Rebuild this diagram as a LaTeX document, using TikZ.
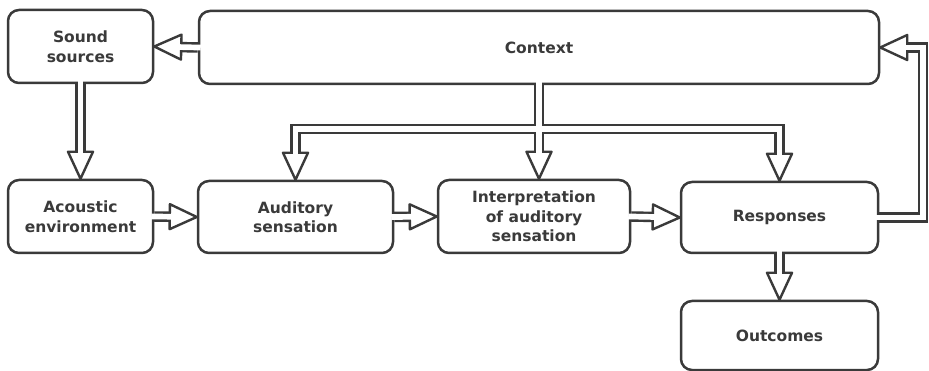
\documentclass[tikz,border=0pt]{standalone}
\usepackage{fontspec}
\setmainfont{DejaVu Sans}
\usetikzlibrary{calc}
\definecolor{lc}{HTML}{3A3A3A}
\definecolor{tc}{HTML}{3A3A3A}
\newcommand\hollowarrow[2]{%
  \path (#1) coordinate (s) (#2) coordinate (t);
  \coordinate (b) at ($(t)!27pt!(s)$);
  \coordinate (s2) at ($(s)!-3pt!(t)$);
  \coordinate (b2) at ($(b)!-3pt!(s)$);
  \draw[outer] (s) -- (b);
  \draw[headstyle] ($(b)!12.5pt!90:(t)$) -- (t) -- ($(b)!12.5pt!-90:(t)$) -- cycle;
  \draw[inner] (s2) -- (b2);
}
\newcommand\headat[2]{% #1 tip, #2 base
  \draw[headstyle] ($(#2)!12.5pt!90:(#1)$) -- (#1) -- ($(#2)!12.5pt!-90:(#1)$) -- cycle;
}
\begin{document}
\begin{tikzpicture}[x=1pt,y=-1pt,
  box/.style={draw=lc, line width=2.5pt, rounded corners=11pt, fill=white, inner sep=0pt},
  lab/.style={font=\bfseries\fontsize{15.5}{19.5}\selectfont, text=tc, align=center},
  headstyle/.style={draw=lc, line width=2.4pt, fill=white, line join=round},
  outer/.style={draw=lc, line width=10.5pt, line join=miter},
  inner/.style={draw=white, line width=5.7pt, line join=miter},
]
\useasboundingbox[fill=white] (0,0) rectangle (929,371);

\node[box, lab, minimum width=145pt, minimum height=73pt] (sound) at (80.5,46.5) {Sound\\sources};
\node[box, lab, minimum width=680pt, minimum height=73pt] (context) at (539,47.5) {Context};
\node[box, lab, minimum width=145pt, minimum height=73pt] (acoustic) at (80.5,216.5) {Acoustic\\environment};
\node[box, lab, minimum width=195pt, minimum height=72pt] (auditory) at (295.5,217) {Auditory\\sensation};
\node[box, lab, minimum width=192pt, minimum height=73pt] (interp) at (534,216.5) {Interpretation\\of auditory\\sensation};
\node[box, lab, minimum width=197pt, minimum height=71pt] (resp) at (779.5,217.5) {Responses};
\node[box, lab, minimum width=197pt, minimum height=69pt] (outc) at (779.5,335.5) {Outcomes};

% straight arrows
\hollowarrow{context.west}{sound.east}
\hollowarrow{sound.south}{acoustic.north}
\hollowarrow{acoustic.east}{auditory.west}
\hollowarrow{auditory.east}{interp.west}
\hollowarrow{interp.east}{resp.west}
\hollowarrow{resp.south}{outc.north}

% fork from Context
\coordinate (fk) at (context.south -| 539,0);
\coordinate (fj) at (539,129);
\coordinate (fl) at (auditory.north |- fj);
\coordinate (fr) at (resp.north |- fj);
\coordinate (tl) at (auditory.north);
\coordinate (tm) at (interp.north -| fj);
\coordinate (tr) at (resp.north);
\coordinate (bl) at ($(tl)+(0,-27)$);
\coordinate (bm) at ($(tm)+(0,-27)$);
\coordinate (br) at ($(tr)+(0,-27)$);
\draw[outer] (bl) -- (fl) -- (fr) -- (br);
\draw[outer] (fk) -- (bm);
\headat{tl}{bl}
\headat{tm}{bm}
\headat{tr}{br}
\draw[inner] ($(bl)+(0,3)$) -- (fl) -- (fr) -- ($(br)+(0,3)$);
\draw[inner] ($(fk)+(0,-3)$) -- ($(bm)+(0,3)$);

% feedback from Responses to Context
\coordinate (qs) at (resp.east);
\coordinate (qc1) at (923,0 |- qs);
\coordinate (qt) at (context.east);
\coordinate (qc2) at (923,0 |- qt);
\coordinate (qb) at ($(qt)+(27,0)$);
\draw[outer] (qs) -- (qc1) -- (qc2) -- (qb);
\headat{qt}{qb}
\draw[inner] ($(qs)+(-3,0)$) -- (qc1) -- (qc2) -- ($(qb)+(-3,0)$);
\end{tikzpicture}
\end{document}
